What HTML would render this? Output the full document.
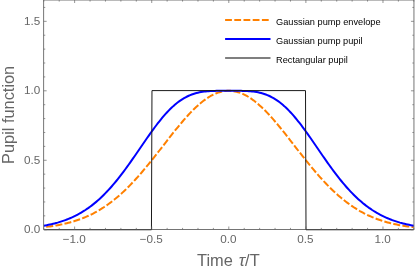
<!DOCTYPE html>
<html><head><meta charset="utf-8"><title>Pupil function</title>
<style>
html,body{margin:0;padding:0;background:#fff;}
body{width:415px;height:271px;overflow:hidden;}
svg{display:block;will-change:transform;font-family:"Liberation Sans",Arial,sans-serif;}
</style></head><body>
<svg width="415" height="271" viewBox="0 0 415 271">
<rect width="415" height="271" fill="#fff"/>
<g fill="none" stroke-linejoin="round">
<path d="M43.80,227.19 L45.34,227.01 L46.88,226.82 L48.42,226.63 L49.96,226.42 L51.50,226.20 L53.05,225.97 L54.59,225.72 L56.13,225.46 L57.67,225.19 L59.21,224.90 L60.75,224.59 L62.30,224.28 L63.84,223.94 L65.38,223.59 L66.92,223.21 L68.46,222.82 L70.00,222.41 L71.55,221.99 L73.09,221.54 L74.63,221.07 L76.17,220.57 L77.71,220.06 L79.26,219.52 L80.80,218.96 L82.34,218.37 L83.88,217.76 L85.42,217.12 L86.96,216.45 L88.51,215.76 L90.05,215.04 L91.59,214.29 L93.13,213.52 L94.67,212.71 L96.21,211.87 L97.76,211.01 L99.30,210.11 L100.84,209.17 L102.38,208.21 L103.92,207.22 L105.46,206.19 L107.01,205.13 L108.55,204.03 L110.09,202.90 L111.63,201.74 L113.17,200.54 L114.71,199.31 L116.26,198.04 L117.80,196.74 L119.34,195.41 L120.88,194.04 L122.42,192.63 L123.96,191.20 L125.51,189.73 L127.05,188.22 L128.59,186.69 L130.13,185.12 L131.67,183.52 L133.21,181.89 L134.76,180.23 L136.30,178.54 L137.84,176.82 L139.38,175.07 L140.92,173.30 L142.46,171.51 L144.01,169.69 L145.55,167.84 L147.09,165.98 L148.63,164.10 L150.17,162.19 L151.72,160.27 L153.26,158.34 L154.80,156.40 L156.34,154.44 L157.88,152.47 L159.42,150.50 L160.97,148.52 L162.51,146.53 L164.05,144.55 L165.59,142.56 L167.13,140.58 L168.67,138.61 L170.22,136.64 L171.76,134.69 L173.30,132.74 L174.84,130.81 L176.38,128.90 L177.92,127.01 L179.47,125.14 L181.01,123.30 L182.55,121.49 L184.09,119.70 L185.63,117.95 L187.17,116.23 L188.72,114.55 L190.26,112.91 L191.80,111.31 L193.34,109.76 L194.88,108.25 L196.42,106.79 L197.97,105.39 L199.51,104.03 L201.05,102.74 L202.59,101.50 L204.13,100.32 L205.67,99.20 L207.22,98.15 L208.76,97.16 L210.30,96.24 L211.84,95.38 L213.38,94.60 L214.92,93.89 L216.47,93.24 L218.01,92.67 L219.55,92.18 L221.09,91.76 L222.63,91.42 L224.17,91.15 L225.72,90.95 L227.26,90.84 L228.80,90.80 L230.34,90.84 L231.88,90.95 L233.43,91.15 L234.97,91.42 L236.51,91.76 L238.05,92.18 L239.59,92.67 L241.13,93.24 L242.68,93.89 L244.22,94.60 L245.76,95.38 L247.30,96.24 L248.84,97.16 L250.38,98.15 L251.93,99.20 L253.47,100.32 L255.01,101.50 L256.55,102.74 L258.09,104.03 L259.63,105.39 L261.18,106.79 L262.72,108.25 L264.26,109.76 L265.80,111.31 L267.34,112.91 L268.88,114.55 L270.43,116.23 L271.97,117.95 L273.51,119.70 L275.05,121.49 L276.59,123.30 L278.13,125.14 L279.68,127.01 L281.22,128.90 L282.76,130.81 L284.30,132.74 L285.84,134.69 L287.38,136.64 L288.93,138.61 L290.47,140.58 L292.01,142.56 L293.55,144.55 L295.09,146.53 L296.63,148.52 L298.18,150.50 L299.72,152.47 L301.26,154.44 L302.80,156.40 L304.34,158.34 L305.88,160.28 L307.43,162.19 L308.97,164.10 L310.51,165.98 L312.05,167.84 L313.59,169.69 L315.14,171.51 L316.68,173.30 L318.22,175.07 L319.76,176.82 L321.30,178.54 L322.84,180.23 L324.39,181.89 L325.93,183.52 L327.47,185.12 L329.01,186.69 L330.55,188.22 L332.09,189.73 L333.64,191.20 L335.18,192.63 L336.72,194.04 L338.26,195.41 L339.80,196.74 L341.34,198.04 L342.89,199.31 L344.43,200.54 L345.97,201.74 L347.51,202.90 L349.05,204.03 L350.59,205.13 L352.14,206.19 L353.68,207.22 L355.22,208.21 L356.76,209.17 L358.30,210.11 L359.84,211.01 L361.39,211.87 L362.93,212.71 L364.47,213.52 L366.01,214.29 L367.55,215.04 L369.09,215.76 L370.64,216.45 L372.18,217.12 L373.72,217.76 L375.26,218.37 L376.80,218.96 L378.34,219.52 L379.89,220.06 L381.43,220.57 L382.97,221.07 L384.51,221.54 L386.05,221.99 L387.60,222.41 L389.14,222.82 L390.68,223.21 L392.22,223.59 L393.76,223.94 L395.30,224.28 L396.85,224.59 L398.39,224.90 L399.93,225.19 L401.47,225.46 L403.01,225.72 L404.55,225.97 L406.10,226.20 L407.64,226.42 L409.18,226.63 L410.72,226.82 L412.26,227.01 L413.80,227.19" stroke="#ff8000" stroke-width="2" stroke-dasharray="7 2.24" stroke-dashoffset="6.74"/>
<path d="M43.80,225.72 L45.34,225.45 L46.88,225.16 L48.42,224.85 L49.96,224.52 L51.50,224.17 L53.05,223.81 L54.59,223.42 L56.13,223.01 L57.67,222.59 L59.21,222.13 L60.75,221.66 L62.30,221.16 L63.84,220.63 L65.38,220.07 L66.92,219.49 L68.46,218.88 L70.00,218.24 L71.55,217.57 L73.09,216.87 L74.63,216.13 L76.17,215.36 L77.71,214.56 L79.26,213.72 L80.80,212.84 L82.34,211.92 L83.88,210.97 L85.42,209.98 L86.96,208.94 L88.51,207.87 L90.05,206.75 L91.59,205.60 L93.13,204.39 L94.67,203.15 L96.21,201.86 L97.76,200.53 L99.30,199.15 L100.84,197.72 L102.38,196.25 L103.92,194.74 L105.46,193.17 L107.01,191.57 L108.55,189.92 L110.09,188.22 L111.63,186.48 L113.17,184.70 L114.71,182.87 L116.26,181.00 L117.80,179.09 L119.34,177.15 L120.88,175.16 L122.42,173.14 L123.96,171.09 L125.51,169.00 L127.05,166.89 L128.59,164.75 L130.13,162.58 L131.67,160.39 L133.21,158.18 L134.76,155.96 L136.30,153.72 L137.84,151.48 L139.38,149.23 L140.92,146.98 L142.46,144.73 L144.01,142.49 L145.55,140.25 L147.09,138.03 L148.63,135.83 L150.17,133.65 L151.72,131.50 L153.26,129.37 L154.80,127.28 L156.34,125.23 L157.88,123.22 L159.42,121.26 L160.97,119.34 L162.51,117.48 L164.05,115.67 L165.59,113.92 L167.13,112.23 L168.67,110.61 L170.22,109.05 L171.76,107.55 L173.30,106.13 L174.84,104.78 L176.38,103.49 L177.92,102.28 L179.47,101.14 L181.01,100.07 L182.55,99.08 L184.09,98.15 L185.63,97.29 L187.17,96.50 L188.72,95.78 L190.26,95.12 L191.80,94.52 L193.34,93.98 L194.88,93.49 L196.42,93.06 L197.97,92.68 L199.51,92.35 L201.05,92.06 L202.59,91.82 L204.13,91.60 L205.67,91.43 L207.22,91.28 L208.76,91.16 L210.30,91.06 L211.84,90.99 L213.38,90.93 L214.92,90.88 L216.47,90.85 L218.01,90.83 L219.55,90.82 L221.09,90.81 L222.63,90.80 L224.17,90.80 L225.72,90.80 L227.26,90.80 L228.80,90.80 L230.34,90.80 L231.88,90.80 L233.43,90.80 L234.97,90.80 L236.51,90.81 L238.05,90.82 L239.59,90.83 L241.13,90.85 L242.68,90.88 L244.22,90.93 L245.76,90.99 L247.30,91.06 L248.84,91.16 L250.38,91.28 L251.93,91.43 L253.47,91.60 L255.01,91.82 L256.55,92.06 L258.09,92.35 L259.63,92.68 L261.18,93.06 L262.72,93.49 L264.26,93.98 L265.80,94.52 L267.34,95.12 L268.88,95.78 L270.43,96.50 L271.97,97.29 L273.51,98.15 L275.05,99.08 L276.59,100.07 L278.13,101.14 L279.68,102.28 L281.22,103.49 L282.76,104.78 L284.30,106.13 L285.84,107.55 L287.38,109.05 L288.93,110.61 L290.47,112.23 L292.01,113.92 L293.55,115.67 L295.09,117.48 L296.63,119.34 L298.18,121.26 L299.72,123.22 L301.26,125.23 L302.80,127.28 L304.34,129.37 L305.88,131.50 L307.43,133.65 L308.97,135.83 L310.51,138.03 L312.05,140.25 L313.59,142.49 L315.14,144.73 L316.68,146.98 L318.22,149.23 L319.76,151.48 L321.30,153.72 L322.84,155.96 L324.39,158.18 L325.93,160.39 L327.47,162.58 L329.01,164.75 L330.55,166.89 L332.09,169.00 L333.64,171.09 L335.18,173.14 L336.72,175.16 L338.26,177.15 L339.80,179.09 L341.34,181.00 L342.89,182.87 L344.43,184.70 L345.97,186.48 L347.51,188.22 L349.05,189.92 L350.59,191.57 L352.14,193.17 L353.68,194.74 L355.22,196.25 L356.76,197.72 L358.30,199.15 L359.84,200.53 L361.39,201.86 L362.93,203.15 L364.47,204.39 L366.01,205.60 L367.55,206.75 L369.09,207.87 L370.64,208.94 L372.18,209.98 L373.72,210.97 L375.26,211.92 L376.80,212.84 L378.34,213.72 L379.89,214.56 L381.43,215.36 L382.97,216.13 L384.51,216.87 L386.05,217.57 L387.60,218.24 L389.14,218.88 L390.68,219.49 L392.22,220.07 L393.76,220.63 L395.30,221.16 L396.85,221.66 L398.39,222.13 L399.93,222.59 L401.47,223.01 L403.01,223.42 L404.55,223.81 L406.10,224.17 L407.64,224.52 L409.18,224.85 L410.72,225.16 L412.26,225.45 L413.80,225.72" stroke="#0000ff" stroke-width="2"/>
</g>
<g stroke="#666" stroke-width="0.9" fill="none">
<rect x="43.65" y="0.00" width="370.30" height="229.50"/>
</g>
<path d="M44.15,229.85 H151.45 M306,229.85 H413.45" stroke="#000" stroke-opacity="0.45" stroke-width="1.1" fill="none"/>
<path d="M151.45,229.6 L151.97,90.6 H305.5 L306,229.6" stroke="#1a1a1a" stroke-width="1" fill="none" stroke-linejoin="round"/>
<g stroke="#666" stroke-width="0.7">
<line x1="43.80" y1="229.50" x2="43.80" y2="227.90"/><line x1="43.80" y1="0.00" x2="43.80" y2="1.60"/><line x1="59.21" y1="229.50" x2="59.21" y2="227.90"/><line x1="59.21" y1="0.00" x2="59.21" y2="1.60"/><line x1="74.63" y1="229.50" x2="74.63" y2="226.50"/><line x1="74.63" y1="0.00" x2="74.63" y2="3.00"/><line x1="90.05" y1="229.50" x2="90.05" y2="227.90"/><line x1="90.05" y1="0.00" x2="90.05" y2="1.60"/><line x1="105.46" y1="229.50" x2="105.46" y2="227.90"/><line x1="105.46" y1="0.00" x2="105.46" y2="1.60"/><line x1="120.88" y1="229.50" x2="120.88" y2="227.90"/><line x1="120.88" y1="0.00" x2="120.88" y2="1.60"/><line x1="136.30" y1="229.50" x2="136.30" y2="227.90"/><line x1="136.30" y1="0.00" x2="136.30" y2="1.60"/><line x1="151.72" y1="229.50" x2="151.72" y2="226.50"/><line x1="151.72" y1="0.00" x2="151.72" y2="3.00"/><line x1="167.13" y1="229.50" x2="167.13" y2="227.90"/><line x1="167.13" y1="0.00" x2="167.13" y2="1.60"/><line x1="182.55" y1="229.50" x2="182.55" y2="227.90"/><line x1="182.55" y1="0.00" x2="182.55" y2="1.60"/><line x1="197.97" y1="229.50" x2="197.97" y2="227.90"/><line x1="197.97" y1="0.00" x2="197.97" y2="1.60"/><line x1="213.38" y1="229.50" x2="213.38" y2="227.90"/><line x1="213.38" y1="0.00" x2="213.38" y2="1.60"/><line x1="228.80" y1="229.50" x2="228.80" y2="226.50"/><line x1="228.80" y1="0.00" x2="228.80" y2="3.00"/><line x1="244.22" y1="229.50" x2="244.22" y2="227.90"/><line x1="244.22" y1="0.00" x2="244.22" y2="1.60"/><line x1="259.63" y1="229.50" x2="259.63" y2="227.90"/><line x1="259.63" y1="0.00" x2="259.63" y2="1.60"/><line x1="275.05" y1="229.50" x2="275.05" y2="227.90"/><line x1="275.05" y1="0.00" x2="275.05" y2="1.60"/><line x1="290.47" y1="229.50" x2="290.47" y2="227.90"/><line x1="290.47" y1="0.00" x2="290.47" y2="1.60"/><line x1="305.88" y1="229.50" x2="305.88" y2="226.50"/><line x1="305.88" y1="0.00" x2="305.88" y2="3.00"/><line x1="321.30" y1="229.50" x2="321.30" y2="227.90"/><line x1="321.30" y1="0.00" x2="321.30" y2="1.60"/><line x1="336.72" y1="229.50" x2="336.72" y2="227.90"/><line x1="336.72" y1="0.00" x2="336.72" y2="1.60"/><line x1="352.14" y1="229.50" x2="352.14" y2="227.90"/><line x1="352.14" y1="0.00" x2="352.14" y2="1.60"/><line x1="367.55" y1="229.50" x2="367.55" y2="227.90"/><line x1="367.55" y1="0.00" x2="367.55" y2="1.60"/><line x1="382.97" y1="229.50" x2="382.97" y2="226.50"/><line x1="382.97" y1="0.00" x2="382.97" y2="3.00"/><line x1="398.39" y1="229.50" x2="398.39" y2="227.90"/><line x1="398.39" y1="0.00" x2="398.39" y2="1.60"/><line x1="413.80" y1="229.50" x2="413.80" y2="227.90"/><line x1="413.80" y1="0.00" x2="413.80" y2="1.60"/><line x1="43.65" y1="229.75" x2="46.65" y2="229.75"/><line x1="413.95" y1="229.75" x2="410.95" y2="229.75"/><line x1="43.65" y1="215.85" x2="45.25" y2="215.85"/><line x1="413.95" y1="215.85" x2="412.35" y2="215.85"/><line x1="43.65" y1="201.96" x2="45.25" y2="201.96"/><line x1="413.95" y1="201.96" x2="412.35" y2="201.96"/><line x1="43.65" y1="188.06" x2="45.25" y2="188.06"/><line x1="413.95" y1="188.06" x2="412.35" y2="188.06"/><line x1="43.65" y1="174.17" x2="45.25" y2="174.17"/><line x1="413.95" y1="174.17" x2="412.35" y2="174.17"/><line x1="43.65" y1="160.28" x2="46.65" y2="160.28"/><line x1="413.95" y1="160.28" x2="410.95" y2="160.28"/><line x1="43.65" y1="146.38" x2="45.25" y2="146.38"/><line x1="413.95" y1="146.38" x2="412.35" y2="146.38"/><line x1="43.65" y1="132.49" x2="45.25" y2="132.49"/><line x1="413.95" y1="132.49" x2="412.35" y2="132.49"/><line x1="43.65" y1="118.59" x2="45.25" y2="118.59"/><line x1="413.95" y1="118.59" x2="412.35" y2="118.59"/><line x1="43.65" y1="104.70" x2="45.25" y2="104.70"/><line x1="413.95" y1="104.70" x2="412.35" y2="104.70"/><line x1="43.65" y1="90.80" x2="46.65" y2="90.80"/><line x1="413.95" y1="90.80" x2="410.95" y2="90.80"/><line x1="43.65" y1="76.91" x2="45.25" y2="76.91"/><line x1="413.95" y1="76.91" x2="412.35" y2="76.91"/><line x1="43.65" y1="63.01" x2="45.25" y2="63.01"/><line x1="413.95" y1="63.01" x2="412.35" y2="63.01"/><line x1="43.65" y1="49.12" x2="45.25" y2="49.12"/><line x1="413.95" y1="49.12" x2="412.35" y2="49.12"/><line x1="43.65" y1="35.22" x2="45.25" y2="35.22"/><line x1="413.95" y1="35.22" x2="412.35" y2="35.22"/><line x1="43.65" y1="21.33" x2="46.65" y2="21.33"/><line x1="413.95" y1="21.33" x2="410.95" y2="21.33"/><line x1="43.65" y1="7.43" x2="45.25" y2="7.43"/><line x1="413.95" y1="7.43" x2="412.35" y2="7.43"/>
</g>
<g font-size="11.7" fill="#666"><text x="74.63" y="243.3" text-anchor="middle" dx="-0.4">−1.0</text><text x="151.72" y="243.3" text-anchor="middle" dx="-0.4">−0.5</text><text x="228.80" y="243.3" text-anchor="middle" dx="-0.4">0.0</text><text x="305.88" y="243.3" text-anchor="middle" dx="-0.4">0.5</text><text x="382.97" y="243.3" text-anchor="middle" dx="-0.4">1.0</text><text x="40.3" y="233.40" text-anchor="end">0.0</text><text x="40.3" y="163.93" text-anchor="end">0.5</text><text x="40.3" y="94.45" text-anchor="end">1.0</text><text x="40.3" y="24.98" text-anchor="end">1.5</text></g>
<text y="265.8" font-size="16.4" fill="#666"><tspan x="197">Time</tspan> <tspan x="238.7" font-style="italic" font-size="17.3">τ</tspan><tspan x="245.1">/T</tspan></text>
<text transform="translate(13.9,114.85) rotate(-90)" font-size="16.35" fill="#666" text-anchor="middle">Pupil function</text>
<g fill="none">
<line x1="225.1" y1="20.1" x2="270.5" y2="20.1" stroke="#ff8000" stroke-width="2" stroke-dasharray="6.8 2.4"/>
<line x1="225.1" y1="38.9" x2="270.5" y2="38.9" stroke="#0000ff" stroke-width="2"/>
<line x1="225.1" y1="58" x2="270.5" y2="58" stroke="#000" stroke-width="1.1"/>
</g>
<g font-size="9.8" fill="#000">
<text x="276.0" y="25.1" textLength="104.6" lengthAdjust="spacingAndGlyphs">Gaussian pump envelope</text>
<text x="276.0" y="44.0" textLength="86.6" lengthAdjust="spacingAndGlyphs">Gaussian pump pupil</text>
<text x="276.0" y="62.8" textLength="71.8" lengthAdjust="spacingAndGlyphs">Rectangular pupil</text>
</g>
</svg>
</body></html>
